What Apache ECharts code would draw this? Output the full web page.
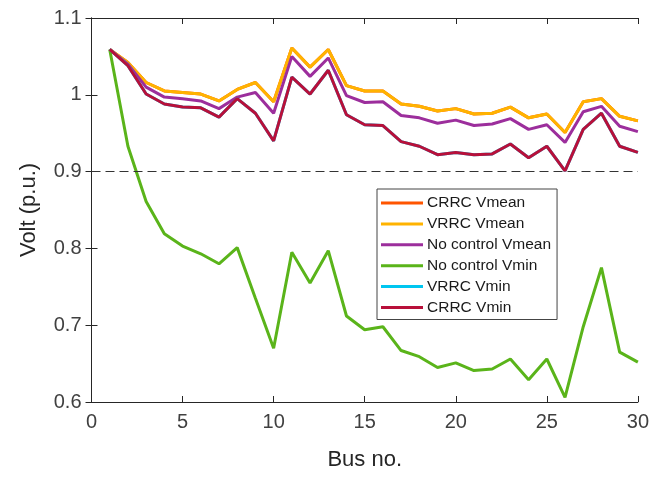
<!DOCTYPE html>
<html>
<head>
<meta charset="utf-8">
<script src="https://cdn.jsdelivr.net/npm/echarts@6/dist/echarts.min.js"></script>
<style>
    html, body { margin: 0; padding: 0; background: #fff; }
    #main { width: 652px; height: 477px; }
</style>
</head>
<body>
<div id="main"></div>
<script>
// bus numbers 1..30
var buses = [1,2,3,4,5,6,7,8,9,10,11,12,13,14,15,16,17,18,19,20,21,22,23,24,25,26,27,28,29,30]

var vrrcMean = [1.059,1.042,1.016,1.005,1.003,1.001,0.992,1.007,1.016,0.991,1.061,1.036,1.059,1.012,1.005,
                1.005,0.988,0.985,0.979,0.982,0.975,0.976,0.984,0.970,0.975,0.951,0.991,0.995,0.972,0.966]
var crrcMean = vrrcMean.slice()
var noCtrlMean = [1.059,1.040,1.010,0.997,0.995,0.992,0.982,0.997,1.003,0.976,1.050,1.024,1.048,0.999,0.990,
                  0.991,0.973,0.970,0.963,0.967,0.960,0.962,0.969,0.955,0.961,0.938,0.978,0.985,0.959,0.952]
var noCtrlMin = [1.059,0.933,0.861,0.819,0.803,0.793,0.780,0.801,0.735,0.670,0.795,0.755,0.797,0.712,0.694,
                 0.698,0.667,0.659,0.645,0.651,0.641,0.643,0.656,0.629,0.656,0.606,0.698,0.775,0.665,0.652]
var crrcMin = [1.059,1.038,1.001,0.988,0.984,0.983,0.971,0.995,0.976,0.940,1.023,1.001,1.032,0.974,0.961,
               0.960,0.939,0.933,0.922,0.925,0.922,0.923,0.936,0.918,0.933,0.901,0.955,0.976,0.933,0.925]
var vrrcMin = crrcMin.slice()
var limitLine = 0.9

function pairs(ys) {
    return buses.map(function (b, i) { return [b, ys[i]] })
}

function lineSeries(name, color, ys) {
    return {
        name: name, type: 'line', data: pairs(ys), symbol: 'none', color: color,
        lineStyle: { width: 3, color: color }, animation: false
    }
}

var chart = echarts.init(document.getElementById('main'))
var font = 'Liberation Sans, Arial, sans-serif'

var series = [
    lineSeries('CRRC Vmean', '#ff5500', crrcMean),
    lineSeries('VRRC Vmean', '#ffb300', vrrcMean),
    lineSeries('No control Vmean', '#9c2e9c', noCtrlMean),
    lineSeries('No control Vmin', '#5ab41a', noCtrlMin),
    lineSeries('VRRC Vmin', '#00c6f0', vrrcMin),
    lineSeries('CRRC Vmin', '#b8103a', crrcMin)
]
series[0].markLine = {
    silent: true, symbol: 'none', label: { show: false },
    lineStyle: { color: '#333', type: [9, 5], width: 1 },
    data: [{ yAxis: limitLine }]
}

var option = {
    backgroundColor: '#fff',
    animation: false,
    grid: { left: 91.5, right: 13.5, top: 18, bottom: 75 },
    legend: {
        orient: 'vertical', left: 377, top: 189,
        backgroundColor: '#fff', borderColor: '#444', borderWidth: 1,
        padding: [6, 6, 4, 4],
        itemWidth: 42, itemHeight: 3, itemGap: 4.9,
        icon: 'rect',
        textStyle: { fontFamily: font, fontSize: 15.5, color: '#1a1a1a', padding: [0, 0, 0, -1] },
        data: series.map(function (s) { return s.name })
    },
    xAxis: [{
        type: 'value', min: 0, max: 30, interval: 5,
        name: 'Bus no.', nameLocation: 'middle', nameGap: 47,
        nameTextStyle: { fontFamily: font, fontSize: 22, color: '#262626' },
        axisLine: { lineStyle: { color: '#262626', width: 1 } },
        axisTick: { inside: true, length: 6, lineStyle: { color: '#262626' } },
        axisLabel: { fontFamily: font, fontSize: 20, color: '#404040', margin: 10 },
        splitLine: { show: false }
    }, {
        type: 'value', min: 0, max: 30, interval: 5, position: 'top',
        axisLine: { lineStyle: { color: '#262626', width: 1 } },
        axisTick: { inside: true, length: 6, lineStyle: { color: '#262626' } },
        axisLabel: { show: false }, splitLine: { show: false }
    }],
    yAxis: [{
        type: 'value', min: 0.6, max: 1.1, interval: 0.1,
        name: 'Volt (p.u.)', nameLocation: 'middle', nameGap: 52,
        nameTextStyle: { fontFamily: font, fontSize: 22, color: '#262626' },
        axisLine: { show: true, lineStyle: { color: '#262626', width: 1 } },
        axisTick: { show: true, inside: true, length: 6, lineStyle: { color: '#262626' } },
        axisLabel: {
            fontFamily: font, fontSize: 20, color: '#404040', margin: 10,
            formatter: function (v) { return String(+v.toFixed(1)) }
        },
        splitLine: { show: false }
    }, {
        type: 'value', min: 0.6, max: 1.1, interval: 0.1, position: 'right',
        axisLine: { show: true, lineStyle: { color: '#262626', width: 1 } },
        axisTick: { show: true, inside: true, length: 6, lineStyle: { color: '#262626' } },
        axisLabel: { show: false }, splitLine: { show: false }
    }],
    series: series
}
chart.setOption(option)
</script>
</body>
</html>
